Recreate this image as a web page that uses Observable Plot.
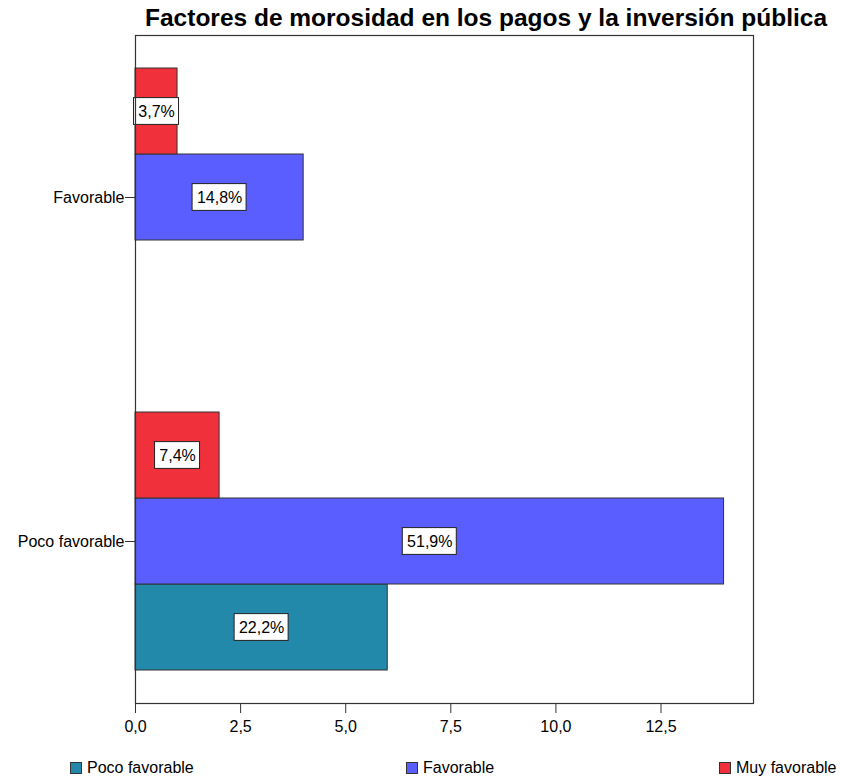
<!DOCTYPE html>
<html><head><meta charset="utf-8">
<script src="https://cdn.jsdelivr.net/npm/d3@7"></script>
<script src="https://cdn.jsdelivr.net/npm/@observablehq/plot@0.6"></script>
<style>
body{margin:0;background:#fff;font-family:"Liberation Sans",Arial,sans-serif;color:#000;}
#wrap{position:relative;width:843px;height:781px;overflow:hidden;}
#title{position:absolute;left:145px;top:6px;font-size:24.5px;font-weight:bold;line-height:1;white-space:nowrap;}
#chart{position:absolute;left:0;top:0;}
#legend{position:absolute;left:0;top:755px;width:843px;height:26px;font-size:16px;line-height:26px;}
.item{position:absolute;top:0;white-space:nowrap;}
.sw{display:inline-block;width:10px;height:10px;border:1px solid #333;margin-right:5px;vertical-align:-1px;}
</style></head><body>
<div id="wrap">
<div id="chart"></div>
<div id="title">Factores de morosidad en los pagos y la inversión pública</div>
<div id="legend"></div>
</div>
<script>
// categories on the y axis (top to bottom)
const groups = ["Favorable", "Poco favorable"];
// series (legend order)
const seriesNames = ["Poco favorable", "Favorable", "Muy favorable"];
const seriesColors = ["#2389aa", "#5b5eff", "#f0303b"];
// counts per series, by group
const countsPoco = [null, 6];
const countsFav = [4, 14];
const countsMuy = [1, 2];
// percentage labels per series, by group
const pctPoco = [null, "22,2%"];
const pctFav = ["14,8%", "51,9%"];
const pctMuy = ["3,7%", "7,4%"];
// x axis
const xTicks = [0, 2.5, 5, 7.5, 10, 12.5];
const xMax = 14.7;

const countsBySeries = [countsPoco, countsFav, countsMuy];
const pctBySeries = [pctPoco, pctFav, pctMuy];

const rows = [];
groups.forEach((g, gi) => {
  seriesNames.forEach((s, si) => {
    const v = countsBySeries[si][gi];
    if (v != null) rows.push({group: g, series: s, key: g + "|" + s, value: v, label: pctBySeries[si][gi]});
  });
});

// y domain: within each group, Muy favorable on top, then Favorable, then Poco favorable; spacer between groups
const yDomain = [];
groups.forEach((g, gi) => {
  if (gi > 0) yDomain.push("gap" + gi);
  [...seriesNames].reverse().forEach(s => yDomain.push(g + "|" + s));
});
const tickKeys = groups.map(g => g + "|Favorable");

const fmt = d => d3.format(".1f")(d).replace(".", ",");
const boxInsetY = 29.6;
const short = rows.filter(d => d.label.length <= 4);
const long = rows.filter(d => d.label.length > 4);

const plot = Plot.plot({
  width: 843,
  height: 755,
  marginLeft: 135,
  marginRight: 90,
  marginTop: 35,
  marginBottom: 52,
  style: {fontFamily: "Liberation Sans, Arial, sans-serif", fontSize: "16px", color: "#000", background: "#fff", overflow: "visible"},
  x: {domain: [0, xMax]},
  y: {domain: yDomain, paddingInner: 0, paddingOuter: 0.37},
  color: {domain: seriesNames, range: seriesColors},
  marks: [
    Plot.barX(rows, {x: "value", y: "key", fill: "series", stroke: "#333", strokeWidth: 1}),
    Plot.barX(short, {x1: d => d.value / 2, x2: d => d.value / 2, y: "key", fill: "#fff", stroke: "#222", strokeWidth: 1,
      insetLeft: -22.5, insetRight: -22.5, insetTop: boxInsetY, insetBottom: boxInsetY}),
    Plot.barX(long, {x1: d => d.value / 2, x2: d => d.value / 2, y: "key", fill: "#fff", stroke: "#222", strokeWidth: 1,
      insetLeft: -27, insetRight: -27, insetTop: boxInsetY, insetBottom: boxInsetY}),
    Plot.text(rows, {x: d => d.value / 2, y: "key", text: "label", fontSize: 16, fill: "#000"}),
    Plot.frame({stroke: "#333", strokeWidth: 1.2}),
    Plot.axisX(xTicks, {tickFormat: fmt, tickSize: 10, tickPadding: 7, fontSize: 16, stroke: "#333", label: null}),
    Plot.axisY(tickKeys, {tickFormat: k => k.split("|")[0], tickSize: 10, tickPadding: 1, fontSize: 16, stroke: "#333", label: null})
  ]
});
document.getElementById("chart").appendChild(plot);

// legend
const legendLefts = [70, 406, 719];
const legend = document.getElementById("legend");
seriesNames.forEach((s, i) => {
  const it = document.createElement("div");
  it.className = "item";
  it.style.left = legendLefts[i] + "px";
  it.innerHTML = `<span class="sw" style="background:${seriesColors[i]}"></span>${s}`;
  legend.appendChild(it);
});
</script>
</body></html>
